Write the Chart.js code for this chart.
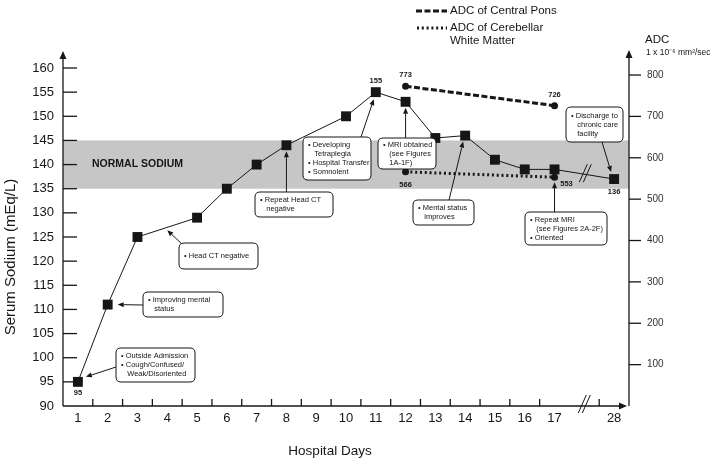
<!DOCTYPE html>
<html>
<head>
<meta charset="utf-8">
<script src="https://cdn.jsdelivr.net/npm/chart.js@4.4.0/dist/chart.umd.min.js"></script>
<style>
  html, body { margin: 0; padding: 0; background: #fff; }
  #wrap { width: 720px; height: 461px; position: relative; }
</style>
</head>
<body>
<div id="wrap"><canvas id="chart"></canvas></div>
<script>
// hospital days, the empty slot is the axis break between 17 and 28
const days = ['1','2','3','4','5','6','7','8','9','10','11','12','13','14','15','16','17','','28'];

// serum sodium, mEq/L
const sodium = [95, 111, 125, null, 129, 135, 140, 144, null, 150, 155, 153, 145.5, 146, 141, 139, 139, null, 137];

// ADC, 1 x 10^-6 mm2/sec
const adcPons =       [null, null, null, null, null, null, null, null, null, null, null, 773, null, null, null, null, 726, null, null];
const adcCerebellar = [null, null, null, null, null, null, null, null, null, null, null, 566, null, null, null, null, 553, null, null];

const sodiumRange = [90, 160];
const adcTicks = [100, 200, 300, 400, 500, 600, 700, 800];
const normalSodium = [135, 145];

const FONT = '"Liberation Sans", Arial, Helvetica, sans-serif';
const INK = '#161616';
const DASH_PONS = [6, 2.5];
const DASH_CEREB = [2, 2.8];

// value labels next to points
const pointNotes = [
    { ds: 0, i: 0,  text: '95',  dx: 0,  dy: 11 },
    { ds: 0, i: 10, text: '155', dx: 0,  dy: -11 },
    { ds: 0, i: 18, text: '136', dx: 0,  dy: 13 },
    { ds: 1, i: 11, text: '773', dx: 0,  dy: -11 },
    { ds: 1, i: 16, text: '726', dx: 0,  dy: -11 },
    { ds: 2, i: 11, text: '566', dx: 0,  dy: 13 },
    { ds: 2, i: 16, text: '553', dx: 12, dy: 7 }
];

// callout boxes: box = [x, y, w, h] in pixels, arrow from "from" to a point
const callouts = [
    { box: [116, 348, 79, 34], lines: ['• Outside Admission', '• Cough/Confused/', '   Weak/Disoriented'], from: [116, 367], to: { ds: 0, i: 0 }, off: [8, -5] },
    { box: [143, 292, 80, 25], lines: ['• Improving mental', '   status'], from: [143, 305], to: { ds: 0, i: 1 }, off: [10, 0] },
    { box: [179, 243, 79, 26], lines: ['• Head CT negative'], from: [182, 244], to: { ds: 0, mid: [2, 4] }, off: [0, 3] },
    { box: [255, 192, 78, 25], lines: ['• Repeat Head CT', '   negative'], from: [null, 192], to: { ds: 0, i: 7 }, off: [0, 6] },
    { box: [303, 137, 68, 43], lines: ['• Developing', '   Tetraplegia', '• Hospital Transfer', '• Somnolent'], from: [361, 137], to: { ds: 0, i: 10 }, off: [-2, 7] },
    { box: [378, 138, 58, 31], lines: ['• MRI obtained', '   (see Figures', '   1A-1F)'], from: [null, 138], to: { ds: 0, i: 11 }, off: [0, 6] },
    { box: [413, 200, 61, 25], lines: ['• Mental status', '   improves'], from: [449, 200], to: { ds: 0, i: 13 }, off: [-2, 6] },
    { box: [525, 212, 82, 33], lines: ['• Repeat MRI', '   (see Figures 2A-2F)', '• Oriented'], from: [null, 212], to: { ds: 2, i: 16 }, off: [0, 5] },
    { box: [566, 107, 57, 35], lines: ['• Discharge to', '   chronic care', '   facility'], from: [602, 142], to: { ds: 0, i: 18 }, off: [-3, -7] }
];

function seg(ctx, x1, y1, x2, y2) {
    ctx.beginPath();
    ctx.moveTo(x1, y1);
    ctx.lineTo(x2, y2);
    ctx.stroke();
}

function arrow(ctx, x1, y1, x2, y2, len, half) {
    const ang = Math.atan2(y2 - y1, x2 - x1);
    const bx = x2 - len * Math.cos(ang), by = y2 - len * Math.sin(ang);
    seg(ctx, x1, y1, bx, by);
    ctx.beginPath();
    ctx.moveTo(x2, y2);
    ctx.lineTo(bx + half * Math.sin(ang), by - half * Math.cos(ang));
    ctx.lineTo(bx - half * Math.sin(ang), by + half * Math.cos(ang));
    ctx.closePath();
    ctx.fill();
}

function roundBox(ctx, x, y, w, h, r) {
    ctx.beginPath();
    ctx.moveTo(x + r, y);
    ctx.lineTo(x + w - r, y);
    ctx.quadraticCurveTo(x + w, y, x + w, y + r);
    ctx.lineTo(x + w, y + h - r);
    ctx.quadraticCurveTo(x + w, y + h, x + w - r, y + h);
    ctx.lineTo(x + r, y + h);
    ctx.quadraticCurveTo(x, y + h, x, y + h - r);
    ctx.lineTo(x, y + r);
    ctx.quadraticCurveTo(x, y, x + r, y);
    ctx.closePath();
}

function pointAt(chart, ds, i) {
    const el = chart.getDatasetMeta(ds).data[i];
    return { x: el.x, y: el.y };
}

function breakMark(ctx, cx, cy) {
    seg(ctx, cx - 6, cy + 8, cx + 2, cy - 10);
    seg(ctx, cx - 2, cy + 8, cx + 6, cy - 10);
}

const decor = {
    id: 'decor',
    beforeDatasetsDraw(chart) {
        const { ctx, chartArea: a, scales: { x, y, y1 } } = chart;
        ctx.save();

        // normal sodium band
        const top = y.getPixelForValue(normalSodium[1]);
        const bot = y.getPixelForValue(normalSodium[0]);
        ctx.fillStyle = '#c6c6c6';
        ctx.fillRect(a.left, top, a.right - a.left, bot - top);
        ctx.fillStyle = INK;
        ctx.font = 'bold 10.5px ' + FONT;
        ctx.textBaseline = 'middle';
        ctx.fillText('NORMAL SODIUM', a.left + 29, (top + bot) / 2);

        ctx.strokeStyle = INK;
        ctx.fillStyle = INK;
        ctx.lineWidth = 1.3;

        // left axis with arrow
        arrow(ctx, a.left, a.bottom, a.left, 51, 8, 3.5);
        y.ticks.forEach(t => {
            if (t.value === sodiumRange[0]) return;
            const py = y.getPixelForValue(t.value);
            seg(ctx, a.left, py, a.left + 14, py);
        });

        // right axis with arrow
        arrow(ctx, a.right, a.bottom, a.right, 50, 8, 3.5);
        adcTicks.forEach(v => {
            const py = y1.getPixelForValue(v);
            seg(ctx, a.right, py, a.right + 12, py);
        });

        // bottom axis with arrow, ticks between days
        arrow(ctx, a.left, a.bottom, a.right - 2, a.bottom, 8, 3.5);
        const gap = days.indexOf('');
        for (let k = 1; k < days.length; k++) {
            if (k === gap) continue;
            const px = (x.getPixelForTick(k - 1) + x.getPixelForTick(k)) / 2;
            seg(ctx, px, a.bottom, px, a.bottom - 7);
        }
        ctx.lineWidth = 1;
        breakMark(ctx, x.getPixelForTick(gap), a.bottom - 1);
        ctx.restore();
    },
    afterDatasetsDraw(chart) {
        const { ctx, scales: { x } } = chart;
        ctx.save();
        ctx.strokeStyle = INK;
        ctx.fillStyle = INK;

        // break mark on the sodium line
        const gap = days.indexOf('');
        const p1 = pointAt(chart, 0, gap - 1), p2 = pointAt(chart, 0, gap + 1);
        const cx = x.getPixelForTick(gap);
        const cy = p1.y + (p2.y - p1.y) * (cx - p1.x) / (p2.x - p1.x);
        ctx.lineWidth = 1;
        breakMark(ctx, cx + 1, cy);

        // value labels
        ctx.font = 'bold 7.5px ' + FONT;
        ctx.textAlign = 'center';
        ctx.textBaseline = 'middle';
        pointNotes.forEach(n => {
            const p = pointAt(chart, n.ds, n.i);
            ctx.fillText(n.text, p.x + n.dx, p.y + n.dy);
        });

        // callouts
        ctx.font = '7.5px ' + FONT;
        ctx.textAlign = 'left';
        callouts.forEach(c => {
            const [bx, by, bw, bh] = c.box;
            let t;
            if (c.to.mid) {
                const a1 = pointAt(chart, c.to.ds, c.to.mid[0]);
                const a2 = pointAt(chart, c.to.ds, c.to.mid[1]);
                t = { x: (a1.x + a2.x) / 2, y: (a1.y + a2.y) / 2 };
            } else {
                t = pointAt(chart, c.to.ds, c.to.i);
            }
            const tx = t.x + c.off[0], ty = t.y + c.off[1];
            const fx = c.from[0] === null ? tx : c.from[0];
            ctx.lineWidth = 1;
            arrow(ctx, fx, c.from[1], tx, ty, 6, 2.5);

            roundBox(ctx, bx, by, bw, bh, 5);
            ctx.fillStyle = '#fff';
            ctx.fill();
            ctx.lineWidth = 1;
            ctx.stroke();
            ctx.fillStyle = INK;
            const y0 = by + (bh - (c.lines.length - 1) * 9) / 2;
            c.lines.forEach((s, k) => ctx.fillText(s, bx + 5, y0 + k * 9));
        });
        ctx.restore();
    },
    afterDraw(chart) {
        const { ctx } = chart;
        ctx.save();
        ctx.fillStyle = INK;
        ctx.strokeStyle = INK;
        ctx.textBaseline = 'middle';

        // legend
        ctx.lineWidth = 3;
        ctx.setLineDash(DASH_PONS);
        seg(ctx, 416, 11, 447, 11);
        ctx.setLineDash(DASH_CEREB);
        seg(ctx, 417, 28, 447, 28);
        ctx.setLineDash([]);
        ctx.font = '11.5px ' + FONT;
        ctx.fillText('ADC of Central Pons', 450, 11);
        ctx.fillText('ADC of Cerebellar', 450, 28);
        ctx.fillText('White Matter', 450, 41);

        // right axis title
        ctx.font = '11.5px ' + FONT;
        ctx.fillText('ADC', 645, 40);
        ctx.font = '8.5px ' + FONT;
        ctx.fillText('1 x 10\u207B\u2076 mm\u00B2/sec', 646, 53);

        // axis titles
        ctx.font = '13.5px ' + FONT;
        ctx.textAlign = 'center';
        ctx.fillText('Hospital Days', 330, 451);
        ctx.translate(11, 257);
        ctx.rotate(-Math.PI / 2);
        ctx.font = '15px ' + FONT;
        ctx.fillText('Serum Sodium (mEq/L)', 0, 0);
        ctx.restore();
    }
};

const chart = new Chart(document.getElementById('chart'), {
    type: 'line',
    data: {
        labels: days,
        datasets: [
            {
                label: 'Serum Sodium',
                data: sodium,
                yAxisID: 'y',
                borderColor: INK,
                borderWidth: 1,
                pointStyle: 'rect',
                pointRadius: 7,
                pointBackgroundColor: INK,
                pointBorderWidth: 0,
                spanGaps: true
            },
            {
                label: 'ADC of Central Pons',
                data: adcPons,
                yAxisID: 'y1',
                borderColor: INK,
                borderWidth: 3,
                borderDash: DASH_PONS,
                pointRadius: 3.5,
                pointBackgroundColor: INK,
                pointBorderWidth: 0,
                spanGaps: true
            },
            {
                label: 'ADC of Cerebellar White Matter',
                data: adcCerebellar,
                yAxisID: 'y1',
                borderColor: INK,
                borderWidth: 3,
                borderDash: DASH_CEREB,
                pointRadius: 3.5,
                pointBackgroundColor: INK,
                pointBorderWidth: 0,
                spanGaps: true
            }
        ]
    },
    options: {
        responsive: true,
        maintainAspectRatio: false,
        animation: false,
        layout: { padding: { top: 68, left: 0, right: 0, bottom: 0 } },
        plugins: {
            legend: { display: false },
            tooltip: { enabled: false }
        },
        scales: {
            x: {
                type: 'category',
                offset: true,
                grid: { display: false, drawTicks: false },
                border: { display: false },
                ticks: { font: { family: FONT, size: 13 }, color: INK, padding: 5, autoSkip: false, maxRotation: 0 },
                afterFit(s) { s.height = 55; }
            },
            y: {
                position: 'left',
                min: sodiumRange[0],
                max: sodiumRange[1],
                grid: { display: false, drawTicks: false },
                border: { display: false },
                ticks: { stepSize: 5, font: { family: FONT, size: 13 }, color: INK, padding: 9 },
                afterFit(s) { s.width = 63; }
            },
            y1: {
                position: 'right',
                min: 0,
                max: 817,
                grid: { display: false, drawTicks: false },
                border: { display: false },
                ticks: { font: { family: FONT, size: 10 }, color: '#333', padding: 18 },
                afterBuildTicks(s) { s.ticks = adcTicks.map(v => ({ value: v })); },
                afterFit(s) { s.width = 91; }
            }
        }
    },
    plugins: [decor]
});
</script>
</body>
</html>
